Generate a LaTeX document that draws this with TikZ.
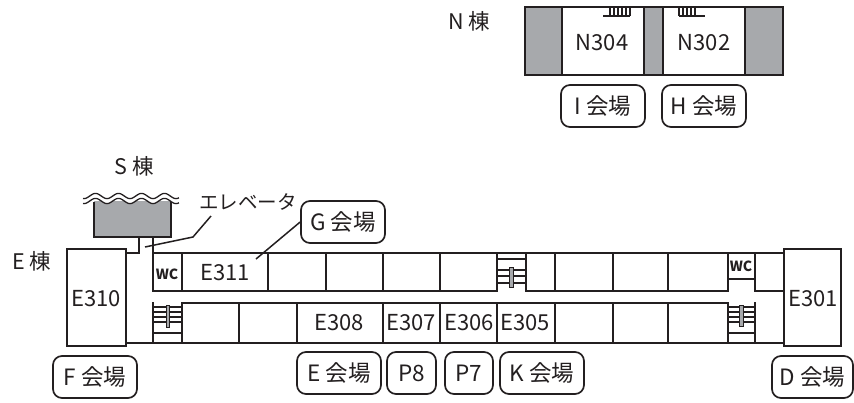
\documentclass[tikz,border=0pt]{standalone}
\usepackage{fontspec}
\setmainfont{Noto Sans CJK JP}
\definecolor{ink}{HTML}{231F20}
\definecolor{wallgrey}{HTML}{A7A9AC}
\tikzset{
  wall/.style={draw=ink,line width=1.8pt,line cap=rect},
  thin wall/.style={draw=ink,line width=1.3pt},
  rail/.style={fill=wallgrey,draw=ink,line width=1pt},
  leader/.style={draw=ink,line width=1.5pt},
  txt/.style={text=ink,inner sep=0pt,font=\fontsize{22}{24}\selectfont},
  small/.style={text=ink,inner sep=0pt,font=\fontsize{19.5}{22}\selectfont},
  bldg/.style={text=ink,inner sep=0pt,font=\fontsize{21.5}{24}\selectfont},
  wc/.style={text=ink,inner sep=0pt,font=\fontsize{14}{16}\selectfont\bfseries},
  hall/.style={draw=ink,line width=1.7pt,rounded corners=9pt,fill=white,text=ink,inner sep=0pt,
    minimum height=42pt,font=\fontsize{22.5}{24}\selectfont},
}
\begin{document}
\begin{tikzpicture}[x=1pt,y=-1pt]
\useasboundingbox (0,0) rectangle (854,402);
% N building
\fill[wallgrey] (525,7) rectangle (783,75);
\draw[wall] (525,7) rectangle (783,75);
\draw[wall,fill=white] (562,7) rectangle (644,75);
\draw[wall,fill=white] (663,7) rectangle (745,75);
\draw[thin wall] (603,16) -- (630,16);
\foreach \x in {610,614,618,622,626,630} \draw[thin wall] (\x,7) -- (\x,16);
\draw[thin wall] (679,16) -- (705,16);
\foreach \x in {679,683,687,691,695} \draw[thin wall] (\x,7) -- (\x,16);
\node[txt] (n304) at (602,43) {N304};
\node[txt] (n302) at (704,43) {N302};
\node[bldg] (nto) at (469,21) {N 棟};
\node[hall,minimum width=84pt] (I) at (603,106) {I 会場};
\node[hall,minimum width=84pt] (H) at (704,106) {H 会場};
% S building
\node[bldg] (sto) at (134,166) {S 棟};
\fill[wallgrey] (94,201) rectangle (171,237);
\draw[wall] (94,203) -- (94,237) -- (171,237) -- (171,203);
\fill[white] plot[domain=83:179,samples=97] (\x,{201+2.6*cos(15.652*(\x-84))}) -- (179,190) -- (83,190) -- cycle;
\draw[thin wall] plot[domain=83:179,samples=97] (\x,{196+2.6*cos(15.652*(\x-84))});
\draw[thin wall] plot[domain=83:179,samples=97] (\x,{201+2.6*cos(15.652*(\x-84))});
% link between S and E
\draw[wall] (139,237) -- (139,253);
\draw[wall] (153,237) -- (153,291);
% E building, corridor walls
\draw[wall] (126,253) -- (139,253);
\draw[wall] (153,253) -- (784,253);
\draw[wall] (153,291) -- (497,291);
\draw[wall] (526,291) -- (728,291);
\draw[wall] (755,291) -- (784,291);
\draw[wall] (182,303) -- (728,303);
\draw[wall] (126,343) -- (784,343);
\foreach \x in {182,268,326,383,440,497,526,555,613,668,728,755} \draw[wall] (\x,253) -- (\x,291);
\foreach \x in {153,182,239,297,383,440,497,555,613,668,728,755} \draw[wall] (\x,303) -- (\x,343);
\draw[wall] (728,279) -- (755,279);
% staircases
\foreach \y in {307,312,317,322,333} \draw[thin wall] (153,\y) -- (182,\y);
\draw[rail] (166,305) rectangle (169,327);
\foreach \y in {307,312,317,322,333} \draw[thin wall] (728,\y) -- (755,\y);
\draw[rail] (739,305) rectangle (743,326);
\foreach \y in {259,270,276,283} \draw[thin wall] (497,\y) -- (526,\y);
\draw[rail] (509,267) rectangle (513,287);
% end blocks
\draw[wall,fill=white] (67,249) rectangle (126,346);
\draw[wall,fill=white] (784,249) rectangle (841,346);
% room labels
\node[txt] (e310) at (96,299) {E310};
\node[txt] (e301) at (813,299) {E301};
\node[txt] (e311) at (225,273) {E311};
\node[txt] (e308) at (339,323) {E308};
\node[txt] (e307) at (411,323) {E307};
\node[txt] (e306) at (469,323) {E306};
\node[txt] (e305) at (525,323) {E305};
\node[wc] (wcl) at (167,274) {WC};
\node[wc] (wcr) at (741,266) {WC};
\node[bldg] (eto) at (32,261) {E 棟};
\node[small] (elev) at (248,202) {エレベータ};
% halls
\node[hall,minimum width=84pt] (F) at (95,377) {F 会場};
\node[hall,minimum width=84pt] (G) at (343,222) {G 会場};
\node[hall,minimum width=84pt] (E) at (339,373) {E 会場};
\node[hall,minimum width=49pt] (P8) at (411.5,373) {P8};
\node[hall,minimum width=48pt] (P7) at (469,373) {P7};
\node[hall,minimum width=84pt] (K) at (542,373) {K 会場};
\node[hall,minimum width=81pt] (D) at (812.5,377) {D 会場};
% leaders
\coordinate (elevend) at (145,247);
\coordinate (gend) at (256,259);
\draw[leader] (211,216) -- (193,237) -- (elevend);
\draw[leader] (G.west) -- (gend);
\end{tikzpicture}
\end{document}
